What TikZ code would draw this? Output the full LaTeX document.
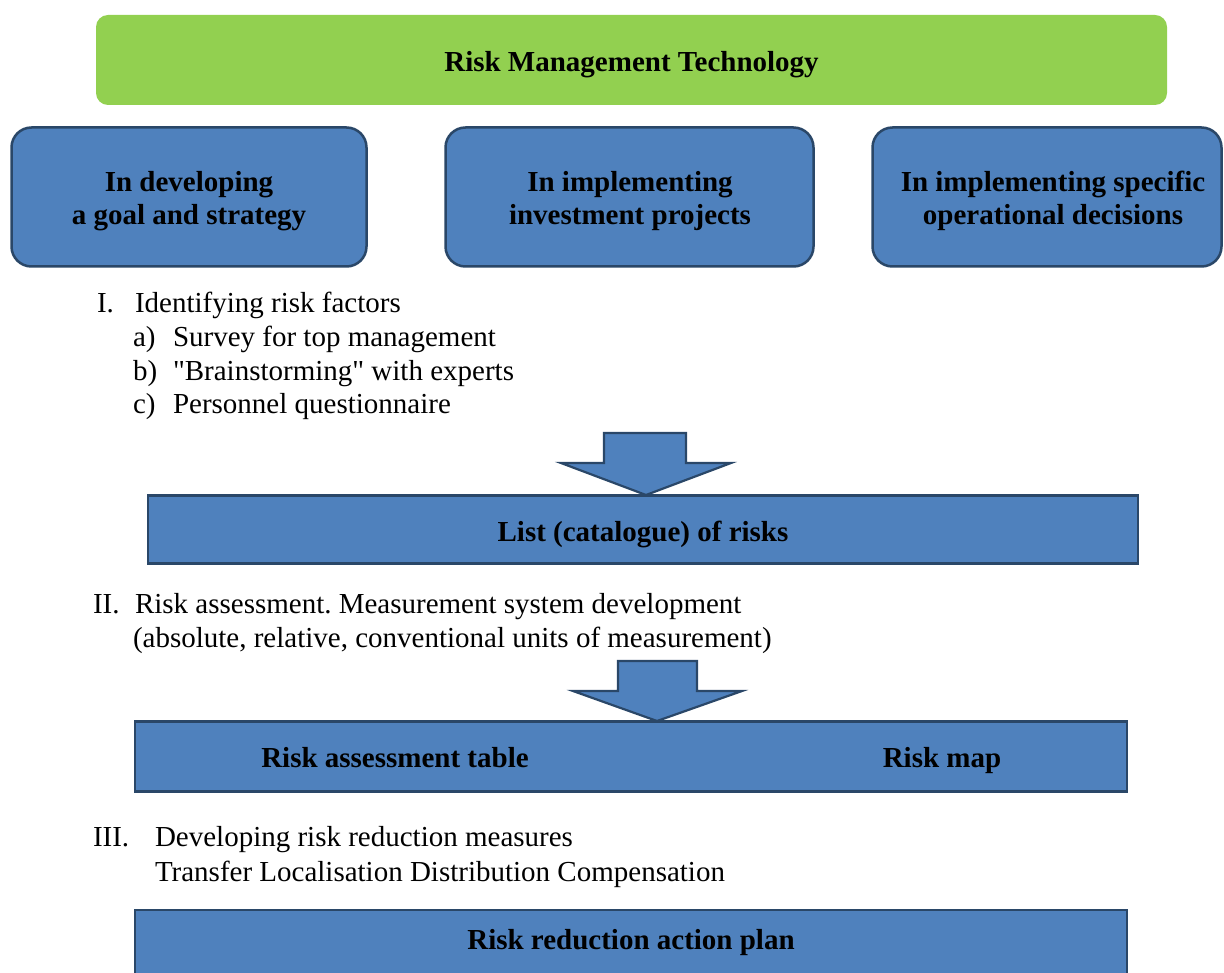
\documentclass[tikz,border=0pt]{standalone}
\usepackage{fontspec}
\setmainfont{Liberation Serif}
\definecolor{grn}{HTML}{92D050}
\definecolor{blu}{HTML}{4F81BD}
\definecolor{bdr}{HTML}{2A4768}
\frenchspacing
\begin{document}
\begin{tikzpicture}[x=1pt,y=-1pt,
  every node/.style={inner sep=0pt, outer sep=0pt},
  greenbox/.style={fill=grn, rounded corners=12pt},
  bluebox/.style={fill=blu, draw=bdr, line width=2.5pt, rounded corners=20pt},
  rectbox/.style={fill=blu, draw=bdr, line width=2.5pt},
  bigarrow/.style={fill=blu, draw=bdr, line width=2.2pt, line join=miter},
  boldtxt/.style={font=\fontsize{29}{33}\selectfont\bfseries, anchor=base},
  plaintxt/.style={font=\fontsize{29}{34}\selectfont, anchor=base west},
]
\useasboundingbox (0,0) rectangle (1224,973);
\fill[white] (0,0) rectangle (1224,973);
\clip (0,0) rectangle (1224,973);

% title
\node[greenbox, minimum width=1071pt, minimum height=90pt] (title) at (631.5,60) {};
\node[boldtxt] (titletxt) at (631.5,72) {Risk Management Technology};

% three rounded boxes
\node[bluebox, minimum width=355pt, minimum height=139pt] (b1) at (189,197) {};
\node[boldtxt] (b1a) at (189,192) {In developing};
\node[boldtxt] (b1b) at (189,225) {a goal and strategy};

\node[bluebox, minimum width=368pt, minimum height=139pt] (b2) at (629.5,197) {};
\node[boldtxt] (b2a) at (630,192) {In implementing};
\node[boldtxt] (b2b) at (630,225) {investment projects};

\node[bluebox, minimum width=349pt, minimum height=139pt] (b3) at (1047,197) {};
\node[boldtxt] (b3a) at (1053,192) {In implementing specific};
\node[boldtxt] (b3b) at (1053,225) {operational decisions};

% section I
\node[plaintxt] (s1) at (97,313) {I.};
\node[plaintxt] (s1t) at (135,313) {Identifying risk factors};
\node[plaintxt] (s1a) at (133,347) {a)};
\node[plaintxt] (s1at) at (173,347) {Survey for top management};
\node[plaintxt] (s1b) at (133,381) {b)};
\node[plaintxt] (s1bt) at (173,381) {\textquotedbl Brainstorming\textquotedbl{} with experts};
\node[plaintxt] (s1c) at (133,414) {c)};
\node[plaintxt] (s1ct) at (173,414) {Personnel questionnaire};

% arrow 1
\draw[bigarrow] (604,433) -- (686,433) -- (686,463) -- (731,463) -- (646,495)
  -- (561,463) -- (604,463) -- cycle;

\node[rectbox, minimum width=990pt, minimum height=68pt] (list) at (643,529.5) {};
\node[boldtxt] (listtxt) at (643,541) {List (catalogue) of risks};

% section II
\node[plaintxt] (s2) at (93,613) {II.};
\node[plaintxt] (s2t) at (135,613) {Risk assessment. Measurement system development};
\node[plaintxt] (s2u) at (133,647) {(absolute, relative, conventional units of measurement)};

% arrow 2
\draw[bigarrow] (618,661) -- (697,661) -- (697,691) -- (742,691) -- (657,721)
  -- (573,691) -- (618,691) -- cycle;

\node[rectbox, minimum width=992pt, minimum height=70pt] (table) at (631,756.5) {};
\node[boldtxt] (tabletxt) at (395,767) {Risk assessment table};
\node[boldtxt] (maptxt) at (942,767) {Risk map};

% section III
\node[plaintxt] (s3) at (93,846) {III.};
\node[plaintxt] (s3t) at (155,846) {Developing risk reduction measures};
\node[plaintxt] (s3u) at (155,881) {Transfer Localisation Distribution Compensation};

\node[rectbox, minimum width=992pt, minimum height=90pt] (plan) at (631,955) {};
\node[boldtxt] (plantxt) at (631,949) {Risk reduction action plan};
\end{tikzpicture}
\end{document}
